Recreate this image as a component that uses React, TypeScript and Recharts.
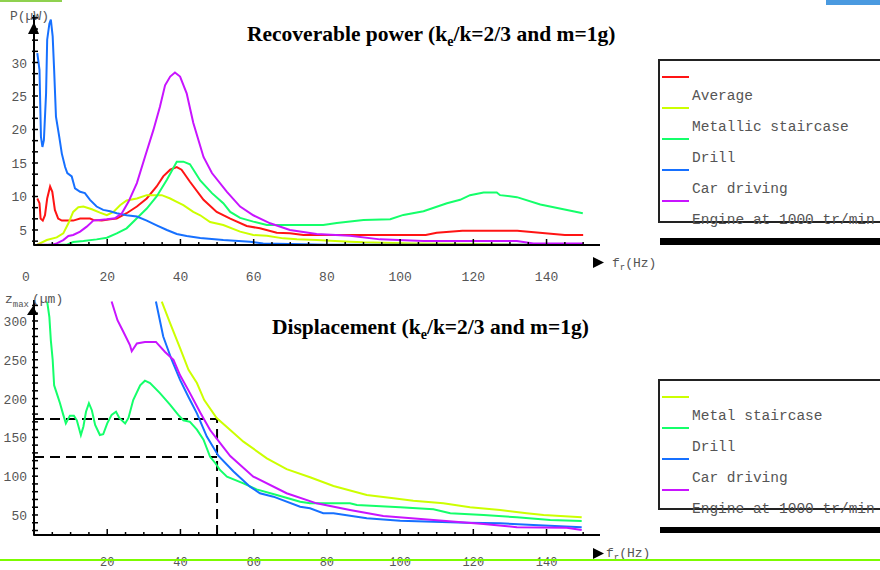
import { Legend, Line, LineChart, ReferenceLine, XAxis, YAxis } from "recharts";

const MONO = '"Liberation Mono", "DejaVu Sans Mono", monospace';
const SERIF = '"Liberation Serif", "Times New Roman", serif';

const RED = "#ff1414";
const YELLOW = "#ccff00";
const GREEN = "#14ff6a";
const BLUE = "#1670ff";
const PURPLE = "#c814ff";

// recoverable power (µW) against resonance frequency (Hz)
const powerNames = ["Average", "Metallic staircase", "Drill", "Car driving", "Engine at 1000 tr/min"];
const powerColors = [RED, YELLOW, GREEN, BLUE, PURPLE];

const averageHz = [0.9, 1.5, 1.8, 2.4, 3.0, 3.6, 4.4, 5.0, 5.7, 6.6, 7.6, 10.7, 12.6, 15.3, 16.2, 18.5, 20.8, 22.6, 25.3, 28.1, 30.8, 33.5, 35.3, 37.2, 39.0, 40.3, 42.6, 46.3, 49.9, 53.6, 58.1, 61.7, 66.3, 69.9, 73.6, 86, 107, 110, 117, 132, 145, 150];
const averagePower = [9.7, 9.0, 6.7, 6.4, 7.2, 9.7, 11.5, 10.7, 8.0, 6.7, 6.4, 6.4, 6.7, 6.7, 6.5, 6.4, 6.6, 6.7, 7.5, 8.5, 9.7, 11.5, 13.0, 14.0, 14.4, 14.0, 12.2, 9.5, 7.7, 6.7, 5.6, 5.25, 4.6, 4.5, 4.25, 4.25, 4.25, 4.6, 4.9, 4.9, 4.25, 4.25];

const staircaseHz = [0.9, 3.5, 6.2, 8.0, 9.4, 10.7, 12.1, 13.5, 15.8, 18.0, 19.9, 21.7, 23.5, 25.3, 28.1, 30.8, 34.9, 37.2, 39.0, 40.8, 43.5, 45.4, 48.1, 51.7, 56.3, 59.9, 63.6, 68.1, 71.8, 77.2, 80.9, 86.3, 90, 103.6, 121.9, 135, 150];
const staircasePower = [2.8, 3.5, 3.9, 4.5, 6.0, 7.7, 8.4, 8.5, 8.1, 7.6, 7.2, 7.7, 8.7, 9.4, 9.7, 10.2, 10.2, 9.7, 9.2, 8.7, 7.7, 7.2, 6.2, 5.75, 4.75, 4.25, 4.15, 3.75, 3.6, 3.5, 3.4, 3.25, 3.16, 3.0, 2.9, 2.8, 2.8];

const drillHz = [4, 9, 10.7, 13.5, 17.1, 19.9, 22.6, 25.3, 28.1, 30.8, 33.5, 36.3, 39.0, 40.8, 42.6, 45.4, 48.6, 51.7, 53.6, 56.3, 59.9, 63.6, 68.1, 79, 82.7, 90, 97.3, 100.9, 106.4, 112.8, 116.4, 119.1, 122.8, 126.4, 127.3, 131.9, 138.3, 144.6, 149.9];
const drillPower = [2.8, 2.8, 3.2, 3.35, 3.6, 3.85, 4.5, 5.25, 6.75, 8.2, 10.0, 12.5, 15.2, 15.2, 14.8, 12.4, 10.5, 9.0, 7.7, 6.8, 6.25, 5.75, 5.75, 5.75, 6.05, 6.5, 6.6, 7.25, 7.8, 9.0, 9.5, 10.2, 10.6, 10.6, 10.2, 9.9, 8.8, 8.1, 7.5];

const carHz = [0.9, 1.5, 1.9, 2.3, 2.7, 3.3, 3.6, 4.2, 4.6, 5.1, 5.5, 6.0, 6.9, 7.6, 8.5, 9.1, 10.3, 11.2, 12.6, 13.9, 15.3, 17.1, 18.9, 20.8, 22.6, 25.3, 28.1, 30.8, 33.5, 36.3, 39.0, 41.7, 45.4, 51.7, 59, 62.6, 70, 80, 150];
const carPower = [31.4, 28.9, 18.9, 17.4, 18.4, 25.4, 33.4, 35.8, 36.4, 33.9, 28.9, 21.9, 18.9, 16.4, 14.4, 13.5, 13.0, 11.2, 10.7, 10.5, 9.5, 8.5, 8.0, 7.8, 7.5, 7.2, 7.0, 6.4, 5.7, 5.0, 4.4, 4.1, 3.8, 3.5, 3.25, 3.0, 2.9, 2.8, 2.8];

const engineHz = [0.9, 5, 6.2, 8.0, 9.4, 10.7, 12.6, 14.4, 16.2, 19.9, 22.1, 24.0, 25.8, 28.1, 30.3, 32.6, 34.4, 35.8, 37.2, 38.5, 39.9, 41.7, 43.5, 46.3, 48.6, 52.7, 56.3, 59.9, 64.5, 69.9, 77.2, 86.3, 94.5, 106.4, 131.9, 136.4, 150];
const enginePower = [2.8, 2.8, 3.0, 3.5, 4.1, 4.25, 4.75, 5.5, 6.4, 6.6, 6.75, 7.5, 9.2, 12.0, 15.9, 19.9, 23.4, 26.6, 27.9, 28.5, 27.9, 25.4, 21.0, 15.9, 13.5, 10.7, 8.5, 7.2, 6.0, 5.0, 4.4, 4.15, 3.6, 3.35, 3.35, 3.0, 3.0];

// max displacement (µm) against resonance frequency (Hz)
const dispNames = ["Metal staircase", "Drill", "Car driving", "Engine at 1000 tr/min"];
const dispColors = [YELLOW, GREEN, BLUE, PURPLE];

const stairDispHz = [34.9, 37.2, 39.9, 42.2, 44.5, 46.5, 49.9, 53.6, 57.2, 63.6, 69, 75.4, 81.8, 90.9, 98.2, 103.6, 111.8, 119.1, 127.3, 134.6, 139.2, 149.6];
const stairDisp = [325, 297, 265, 237, 220, 198, 175, 159.5, 144.5, 123, 109, 98.6, 87.4, 75.8, 71.5, 68.4, 65, 60, 56.4, 52.2, 50, 47];

const drillDispHz = [3.6, 4.2, 4.6, 5.1, 5.5, 6.2, 7.1, 8, 8.7, 9.8, 10.9, 11.7, 12.8, 13.5, 14.2, 15, 15.8, 16.7, 18, 18.9, 20, 21.2, 22.4, 23.3, 24.9, 25.8, 27.1, 29, 30.3, 31.7, 34.4, 37.2, 39.4, 40.8, 42.6, 44.5, 46.3, 48.1, 49.5, 50.8, 52.7, 57.2, 60.8, 66.3, 72.7, 75.4, 86.3, 88.2, 100, 109.1, 113.7, 122.8, 131.9, 141, 149.6];
const drillDisp = [325, 305, 275, 250, 217, 207, 194, 179, 168, 178, 178, 172, 153, 164, 183, 194, 185, 166, 153, 154, 168, 179, 183, 175, 168, 175, 198, 217, 223, 220, 207, 192, 179, 172, 170, 160, 147, 125, 117, 108, 99.4, 90.8, 83, 75.8, 67, 65, 65, 63, 60, 57.3, 52.2, 50, 47, 43.6, 42.3];

const carDispHz = [33.3, 35.3, 37.6, 39.9, 42.2, 44.5, 47.2, 50.4, 54.5, 59, 61.7, 65.4, 72.7, 75.4, 79, 81.8, 90.9, 100, 109.1, 118.2, 127.3, 136.4, 149.6];
const carDisp = [325, 280, 250, 224, 202, 181, 151, 126, 106, 86.5, 78, 73.6, 60.7, 58.6, 52.2, 52.2, 45.7, 42.7, 41.4, 40.1, 39.3, 37.1, 34.2];

const engineDispHz = [21.2, 22.8, 24.4, 26.2, 26.7, 28.1, 30.3, 33.3, 35.8, 38.1, 39.9, 42.6, 45.4, 48.1, 50.8, 53.6, 59.9, 69, 77.2, 86.3, 95.4, 109.1, 122.8, 131.9, 145.5, 149.6];
const engineDisp = [325, 301, 286, 269, 261, 271, 273, 273, 260, 250, 230, 207, 182, 159.5, 143, 126, 99.4, 78, 65, 56.4, 48.7, 43.6, 38.4, 34.2, 33.6, 30.7];

// dashed guides at 50 Hz
const markerHz = 50;
const markerLevels = [173.7, 124.7];

// axes
const freqLabels = [20, 40, 60, 80, 100, 120, 140];
const freqTicks = Array.from({ length: 31 }, (_, i) => i * 5);
const powerLabels = [5, 10, 15, 20, 25, 30];
const powerTicks = Array.from({ length: 21 }, (_, i) => ((i + 2) * 5) / 3);
const dispLabels = [50, 100, 150, 200, 250, 300];
const dispTicks = Array.from({ length: 30 }, (_, i) => 30 + i * 10);

const zip = (hz: number[], v: number[]) => hz.map((f, i) => ({ f, v: v[i] }));

const makeXTick = (showZero: boolean, labelDy: number, fontSize: number) => (props: any) => {
  const { x, y, payload } = props;
  const v = payload.value;
  const major = v % 20 === 0;
  const labelled = freqLabels.includes(v) || (showZero && v === 0);
  return (
    <g>
      <line x1={x} x2={x} y1={y - (major ? 6 : 3)} y2={y + 1} stroke="#000" strokeWidth={1.5} />
      {labelled && (
        <text x={v === 0 ? x - 8 : x} y={y + labelDy} textAnchor="middle" fontFamily={MONO} fontSize={fontSize} fill="#555">
          {v}
        </text>
      )}
    </g>
  );
};

const makeYTick = (labels: number[]) => (props: any) => {
  const { x, y, payload } = props;
  const lab = labels.find((l) => Math.abs(l - payload.value) < 1e-6);
  return (
    <g>
      <line x1={x - 2} x2={x + 4} y1={y} y2={y} stroke="#000" strokeWidth={1.5} />
      {lab !== undefined && (
        <text x={x - 7} y={y} dy={5} textAnchor="end" fontFamily={MONO} fontSize={13} fill="#555">
          {lab}
        </text>
      )}
    </g>
  );
};

const FreqLabel = (props: any) => {
  const vb = props.viewBox ?? { x: 34, y: 245, width: 566 };
  const ax = vb.x + vb.width - 7;
  const top = props.compact ? vb.y + 13 : vb.y + 12;
  return (
    <g>
      <polygon points={`${ax},${top} ${ax},${top + 11} ${ax + 11},${top + 5.5}`} fill="#000" />
      <text x={ax + (props.compact ? 13 : 19)} y={vb.y + 22} fontFamily={MONO} fontSize={13} fill="#555">
        f<tspan fontSize={9} dy={3}>r</tspan>
        <tspan dy={-3}>(Hz)</tspan>
      </text>
    </g>
  );
};

const PowerLabel = (props: any) => {
  const vb = props.viewBox ?? { x: 0, y: 15, width: 34 };
  const ax = vb.x + vb.width;
  return (
    <g>
      <polygon points={`${ax},${vb.y + 7} ${ax - 6},${vb.y + 19} ${ax + 5},${vb.y + 19}`} fill="#000" />
      <text x={10} y={vb.y + 5} fontFamily={MONO} fontSize={13} fill="#555">
        P(µW)
      </text>
    </g>
  );
};

const DispLabel = (props: any) => {
  const vb = props.viewBox ?? { x: 0, y: 10, width: 34 };
  const ax = vb.x + vb.width - 1;
  return (
    <g>
      <polygon points={`${ax},${vb.y + 6} ${ax - 6},${vb.y + 15} ${ax + 5},${vb.y + 15}`} fill="#000" />
      <text x={5} y={vb.y + 3} fontFamily={MONO} fontSize={13} fill="#555">
        z<tspan fontSize={9} dy={4}>max</tspan>
        <tspan dy={-4} dx={3}>(µm)</tspan>
      </text>
    </g>
  );
};

// legend box: a coloured line, then its name just below it
const makeLegend = (names: string[], colors: string[], boxHeight: number, barTop: number, barHeight: number) => () => (
  <svg width={222} height={190} style={{ display: "block", overflow: "visible" }}>
    <rect x={1} y={1} width={260} height={boxHeight - 1} fill="none" stroke="#222" strokeWidth={2} />
    {names.map((name, i) => {
      const ly = 18 + i * 31;
      return (
        <g key={name}>
          <line x1={4} x2={31} y1={ly} y2={ly} stroke={colors[i]} strokeWidth={2} />
          <text x={34} y={ly + 23} fontFamily={MONO} fontSize={14.5} fill="#555">
            {name}
          </text>
        </g>
      );
    })}
    <rect x={2} y={barTop} width={230} height={barHeight} fill="#000" />
  </svg>
);

const titleStyle = {
  position: "absolute" as const,
  fontFamily: SERIF,
  fontWeight: "bold" as const,
  fontSize: 21.5,
  lineHeight: "21.5px",
  whiteSpace: "nowrap" as const,
  color: "#000",
};

const Sub = ({ children }: { children: string }) => (
  <span style={{ fontSize: 14, position: "relative", top: 5 }}>{children}</span>
);

export default function App() {
  const axisLine = { stroke: "#000", strokeWidth: 2 };
  const powerData = [
    zip(averageHz, averagePower),
    zip(staircaseHz, staircasePower),
    zip(drillHz, drillPower),
    zip(carHz, carPower),
    zip(engineHz, enginePower),
  ];
  const dispData = [
    zip(stairDispHz, stairDisp),
    zip(drillDispHz, drillDisp),
    zip(carDispHz, carDisp),
    zip(engineDispHz, engineDisp),
  ];
  return (
    <div style={{ position: "absolute", left: 0, top: 0, width: 880, height: 570, overflow: "hidden", background: "#fff" }}>
      <div style={{ position: "absolute", left: 0, top: 0 }}>
        <LineChart width={880} height={290} margin={{ top: 15, right: 280, bottom: 0, left: 0 }}>
          <XAxis
            type="number"
            dataKey="f"
            domain={[0, 154.6]}
            ticks={freqTicks}
            interval={0}
            tick={makeXTick(true, 36, 13)}
            tickLine={false}
            tickSize={0}
            tickMargin={0}
            axisLine={axisLine}
            height={45}
            allowDataOverflow
            label={{ content: (p: any) => <FreqLabel {...p} /> }}
          />
          <YAxis
            type="number"
            domain={[2.76, 37.09]}
            ticks={powerTicks}
            interval={0}
            tick={makeYTick(powerLabels)}
            tickLine={false}
            tickSize={0}
            tickMargin={0}
            axisLine={axisLine}
            width={34}
            allowDataOverflow
            label={{ content: (p: any) => <PowerLabel {...p} /> }}
          />
          <Legend
            layout="horizontal"
            align="center"
            verticalAlign="middle"
            content={makeLegend(powerNames, powerColors, 163, 179, 7)}
            wrapperStyle={{ left: 658, top: 59, width: 222, height: 190 }}
          />
          {powerData.map((d, i) => (
            <Line key={powerNames[i]} name={powerNames[i]} data={d} dataKey="v" type="linear" stroke={powerColors[i]} strokeWidth={2} dot={false} isAnimationActive={false} />
          ))}
        </LineChart>
      </div>

      <div style={{ position: "absolute", left: 0, top: 290 }}>
        <LineChart width={880} height={280} margin={{ top: 10, right: 280, bottom: 0, left: 0 }}>
          <XAxis
            type="number"
            dataKey="f"
            domain={[0, 154.6]}
            ticks={freqTicks}
            interval={0}
            tick={makeXTick(false, 31, 12)}
            tickLine={false}
            tickSize={0}
            tickMargin={0}
            axisLine={axisLine}
            height={35}
            allowDataOverflow
            label={{ content: (p: any) => <FreqLabel {...p} compact /> }}
          />
          <YAxis
            type="number"
            domain={[24.2, 327]}
            ticks={dispTicks}
            interval={0}
            tick={makeYTick(dispLabels)}
            tickLine={false}
            tickSize={0}
            tickMargin={0}
            axisLine={axisLine}
            width={34}
            allowDataOverflow
            label={{ content: (p: any) => <DispLabel {...p} /> }}
          />
          <Legend
            layout="horizontal"
            align="center"
            verticalAlign="middle"
            content={makeLegend(dispNames, dispColors, 130, 148, 6)}
            wrapperStyle={{ left: 658, top: 89, width: 222, height: 190 }}
          />
          {markerLevels.map((lv) => (
            <ReferenceLine key={lv} segment={[{ x: 0, y: lv }, { x: markerHz, y: lv }]} stroke="#000" strokeWidth={2} strokeDasharray="10 6" ifOverflow="visible" />
          ))}
          <ReferenceLine segment={[{ x: markerHz, y: 24.2 }, { x: markerHz, y: markerLevels[0] }]} stroke="#000" strokeWidth={2} strokeDasharray="10 6" ifOverflow="visible" />
          {dispData.map((d, i) => (
            <Line key={dispNames[i]} name={dispNames[i]} data={d} dataKey="v" type="linear" stroke={dispColors[i]} strokeWidth={2} dot={false} isAnimationActive={false} />
          ))}
        </LineChart>
      </div>

      <div style={{ ...titleStyle, left: 247, top: 24 }}>
        Recoverable power (k<Sub>e</Sub>/k=2/3 and m=1g)
      </div>
      <div style={{ ...titleStyle, left: 272, top: 317 }}>
        Displacement (k<Sub>e</Sub>/k=2/3 and m=1g)
      </div>

      <div style={{ position: "absolute", left: 0, top: 0, width: 62, height: 2, background: "#8fd14f" }} />
      <div style={{ position: "absolute", left: 826, top: 0, width: 54, height: 5, background: "#4a9ae0" }} />
      <div style={{ position: "absolute", left: 0, top: 559, width: 880, height: 2, background: "#7cfc00" }} />
    </div>
  );
}
